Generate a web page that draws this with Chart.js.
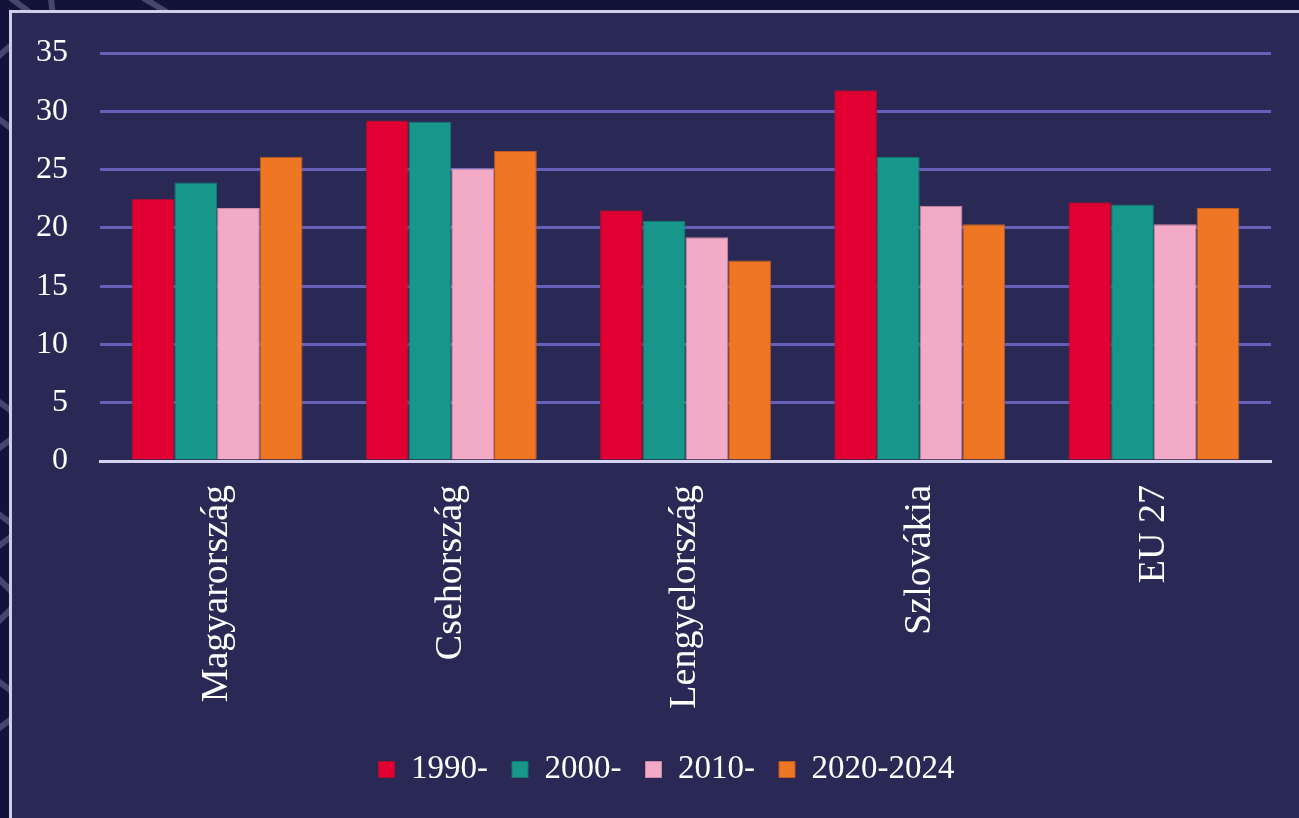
<!DOCTYPE html>
<html>
<head>
<meta charset="utf-8">
<script src="https://cdn.jsdelivr.net/npm/chart.js@4"></script>
<style>
    html, body { margin: 0; padding: 0; width: 1299px; height: 818px; overflow: hidden; background: #12123b; }
    #deco { position: absolute; left: 0; top: 0; }
    #panel { position: absolute; left: 9px; top: 10px; width: 1320px; height: 840px; background: #2a2854; border: 3px solid #cfcde8; box-sizing: border-box; }
    #wrap { position: absolute; left: 0; top: 0; width: 1299px; height: 818px; }
</style>
</head>
<body>
<svg id="deco" width="1299" height="818">
    <g fill="none" stroke="#44466e" stroke-width="6">
        <polyline points="-40,-40 40,20 -40,90 40,150" />
        <polyline points="50,-10 58,60" />
        <polyline points="130,-10 170,14" />
        <polyline points="-30,380 30,425 -30,470" />
        <polyline points="-20,500 20,530 -20,560 20,600 -20,640" />
        <polyline points="-30,660 30,705 -30,750" />
    </g>
</svg>
<div id="panel"></div>
<div id="wrap"><canvas id="chart" width="1299" height="818"></canvas></div>
<script>
const categories = ['Magyarország', 'Csehország', 'Lengyelország', 'Szlovákia', 'EU 27'];
const series1990 = [22.5, 29.2, 21.5, 31.8, 22.2];
const series2000 = [23.9, 29.1, 20.6, 26.1, 22.0];
const series2010 = [21.7, 25.1, 19.2, 21.9, 20.3];
const series2020 = [26.1, 26.6, 17.2, 20.3, 21.7];
const seriesLabels = ['1990-', '2000-', '2010-', '2020-2024'];
const yTicks = [0, 5, 10, 15, 20, 25, 30, 35];

const fill = ['#e00032', '#17978a', '#f3aac7', '#ef7622'];
const edge = ['#a8102f', '#107a70', '#c98aa3', '#b85c20'];
const values = [series1990, series2000, series2010, series2020];

Chart.defaults.font.family = '"Liberation Serif", "DejaVu Serif", serif';
Chart.defaults.color = '#ffffff';

// the original legend sits a bit right of the canvas centre
const shiftLegend = {
    id: 'shiftLegend',
    afterLayout(chart) {
        chart.legend.left += 31;
        chart.legend.right += 31;
    }
};

new Chart(document.getElementById('chart'), {
    type: 'bar',
    data: {
        labels: categories,
        datasets: values.map((v, i) => ({
            label: seriesLabels[i],
            data: v,
            backgroundColor: fill[i],
            borderColor: edge[i],
            borderWidth: 1,
            categoryPercentage: 0.73,
            barPercentage: 1.0
        }))
    },
    options: {
        responsive: false,
        animation: false,
        layout: { padding: { top: 53, right: 28, bottom: 22, left: 0 } },
        plugins: {
            tooltip: { enabled: false },
            legend: {
                position: 'bottom',
                labels: {
                    boxWidth: 16,
                    boxHeight: 16,
                    padding: 24,
                    color: '#ffffff',
                    font: { size: 33 }
                }
            }
        },
        scales: {
            x: {
                grid: { display: false, drawTicks: false },
                border: { display: true, color: '#d4d2ee', width: 3 },
                ticks: {
                    color: '#ffffff',
                    font: { size: 38 },
                    minRotation: 90,
                    maxRotation: 90,
                    padding: 24
                },
                afterFit: scale => { scale.height = 268; }
            },
            y: {
                min: 0,
                max: 35,
                afterBuildTicks: scale => { scale.ticks = yTicks.map(v => ({ value: v })); },
                grid: {
                    drawTicks: false,
                    lineWidth: 3,
                    color: ctx => ctx.tick && ctx.tick.value === 0 ? '#d4d2ee' : '#6661b8'
                },
                border: { display: false },
                ticks: {
                    color: '#ffffff',
                    font: { size: 32 },
                    padding: 32
                },
                afterFit: scale => { scale.width = 100; }
            }
        }
    },
    plugins: [shiftLegend]
});
</script>
</body>
</html>
